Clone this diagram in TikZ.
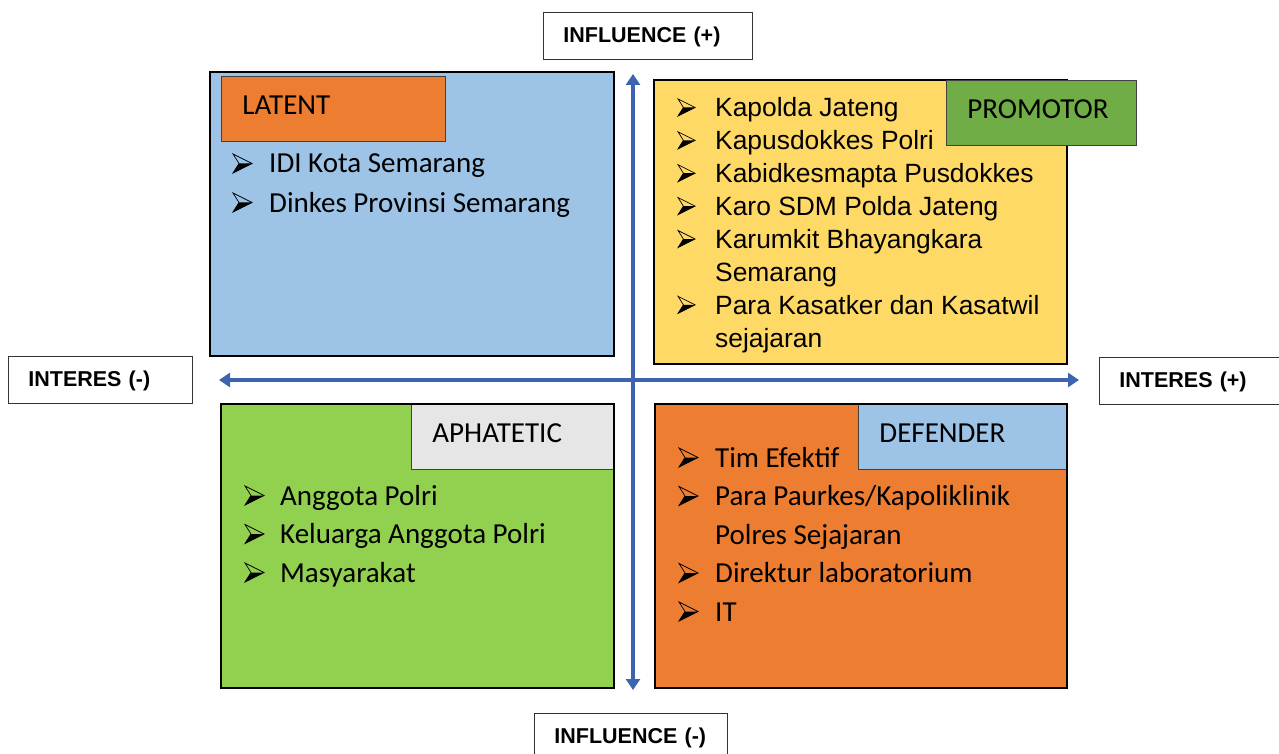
\documentclass[tikz,border=0pt]{standalone}
\usepackage{fontspec}
\setmainfont{Carlito}
\newfontfamily\arialfont{Liberation Sans}
\usetikzlibrary{arrows.meta}
\definecolor{LatentBlue}{HTML}{9DC3E6}
\definecolor{TagOrange}{HTML}{ED7D31}
\definecolor{PromoYellow}{HTML}{FFD966}
\definecolor{PromoGreen}{HTML}{70AD47}
\definecolor{ApaGreen}{HTML}{92D050}
\definecolor{ApaGray}{HTML}{E7E6E6}
\definecolor{AxisBlue}{RGB}{60,100,176}

\tikzset{
  quad/.style={draw=black,line width=2.4pt,anchor=north west,inner sep=0pt,outer sep=0pt},
  quadline/.style={draw=black,line width=2.4pt},
  tagbox/.style={draw=black!75,line width=0.9pt,anchor=north west,inner xsep=21pt,inner ysep=0pt,
    text height=18pt,text depth=7pt,align=left,font=\fontsize{29}{35}\selectfont},
  axislabel/.style={draw=black!80,line width=0.8pt,anchor=north west,inner xsep=20pt,inner ysep=0pt,
    minimum height=47pt,text height=15pt,text depth=2pt,align=left,
    font=\arialfont\bfseries\fontsize{21.5}{26}\selectfont},
  itemtext/.style={anchor=base west,inner sep=0pt,font=\fontsize{29}{35}\selectfont},
  itemarial/.style={anchor=base west,inner sep=0pt,font=\arialfont\fontsize{26.4}{32}\selectfont},
  bltarrow/.pic={
    \fill[black] (0,0) -- (6,-9.5) -- (19,-9.5) -- cycle;
    \draw[black,line width=0.7pt,line join=miter] (0,-19) -- (19,-9.5) -- (0,0) -- (6,-9.5) -- cycle;
  },
  axisarrow/.style={{Triangle[length=11pt,width=14pt]}-{Triangle[length=11pt,width=14pt]},line width=4.5pt,AxisBlue}
}

\begin{document}
\begin{tikzpicture}[x=1pt,y=-1pt]
  \useasboundingbox (0,0) rectangle (1279,754);
  \clip (0,0) rectangle (1279,754);

  % quadrants
  \node[quad,fill=LatentBlue,minimum width=404pt,minimum height=284pt] (latent) at (210,72) {};
  \node[quad,fill=PromoYellow,minimum width=413pt,minimum height=284pt] (promotor) at (654,80) {};
  \node[quad,fill=ApaGreen,minimum width=393pt,minimum height=284pt] (apathetic) at (221,404) {};
  \node[quad,fill=TagOrange,minimum width=412pt,minimum height=284pt] (defender) at (655,404) {};

  % quadrant tags
  \node[tagbox,fill=TagOrange,text width=182pt,minimum height=65pt] (latTag) at (221,76) {LATENT};
  \node[tagbox,fill=PromoGreen,text width=148pt,minimum height=65pt] (proTag) at (946,80) {PROMOTOR};
  \node[tagbox,fill=ApaGray,text width=161pt,minimum height=65pt] (apaTag) at (411,404) {APHATETIC};
  \node[tagbox,fill=LatentBlue,text width=167pt,minimum height=65pt] (defTag) at (858,404) {DEFENDER};
  \draw[quadline] (apathetic.north west) rectangle (apathetic.south east);
  \draw[quadline] (defender.north west) rectangle (defender.south east);

  % stakeholder lists
  \foreach \t [count=\i from 0] in {IDI Kota Semarang,Dinkes Provinsi Semarang}
    \node[itemtext] (lat-\i) at (269,173+39*\i) {\t};
  \foreach \i in {0,1}
    \pic (latB-\i) at (233,173+39*\i) {bltarrow};

  \foreach \t [count=\i from 0] in {Kapolda Jateng,Kapusdokkes Polri,Kabidkesmapta Pusdokkes,
      Karo SDM Polda Jateng,Karumkit Bhayangkara,Semarang,Para Kasatker dan Kasatwil,sejajaran}
    \node[itemarial] (pro-\i) at (715,117+32.9*\i) {\t};
  \foreach \i in {0,1,2,3,4,6}
    \pic[scale=0.9] (proB-\i) at (678,116+32.9*\i) {bltarrow};

  \foreach \t [count=\i from 0] in {Anggota Polri,Keluarga Anggota Polri,Masyarakat}
    \node[itemtext] (apa-\i) at (280,505+38.5*\i) {\t};
  \foreach \i in {0,1,2}
    \pic (apaB-\i) at (245,505+38.5*\i) {bltarrow};

  \foreach \t [count=\i from 0] in {Tim Efektif,Para Paurkes/Kapoliklinik,Polres Sejajaran,
      Direktur laboratorium,IT}
    \node[itemtext] (def-\i) at (715,467+38.5*\i) {\t};
  \foreach \i in {0,1,3,4}
    \pic (defB-\i) at (679,467+38.5*\i) {bltarrow};

  % axis labels
  \node[axislabel,text width=169pt] (inflPlus) at (543,12) {INFLUENCE (+)};
  \node[axislabel,text width=153pt] (inflMinus) at (534,713) {INFLUENCE (-)};
  \node[axislabel,text width=144pt] (intMinus) at (8,356) {INTERES (-)};
  \node[axislabel,text width=160pt] (intPlus) at (1099,357) {INTERES (+)};

  % axes
  \coordinate (axTop) at (633,74);
  \coordinate (axBottom) at (633,690);
  \coordinate (axLeft) at (219,380);
  \coordinate (axRight) at (1079,380);
  \draw[axisarrow] (axTop) -- (axBottom);
  \draw[axisarrow] (axLeft) -- (axRight);
\end{tikzpicture}
\end{document}
